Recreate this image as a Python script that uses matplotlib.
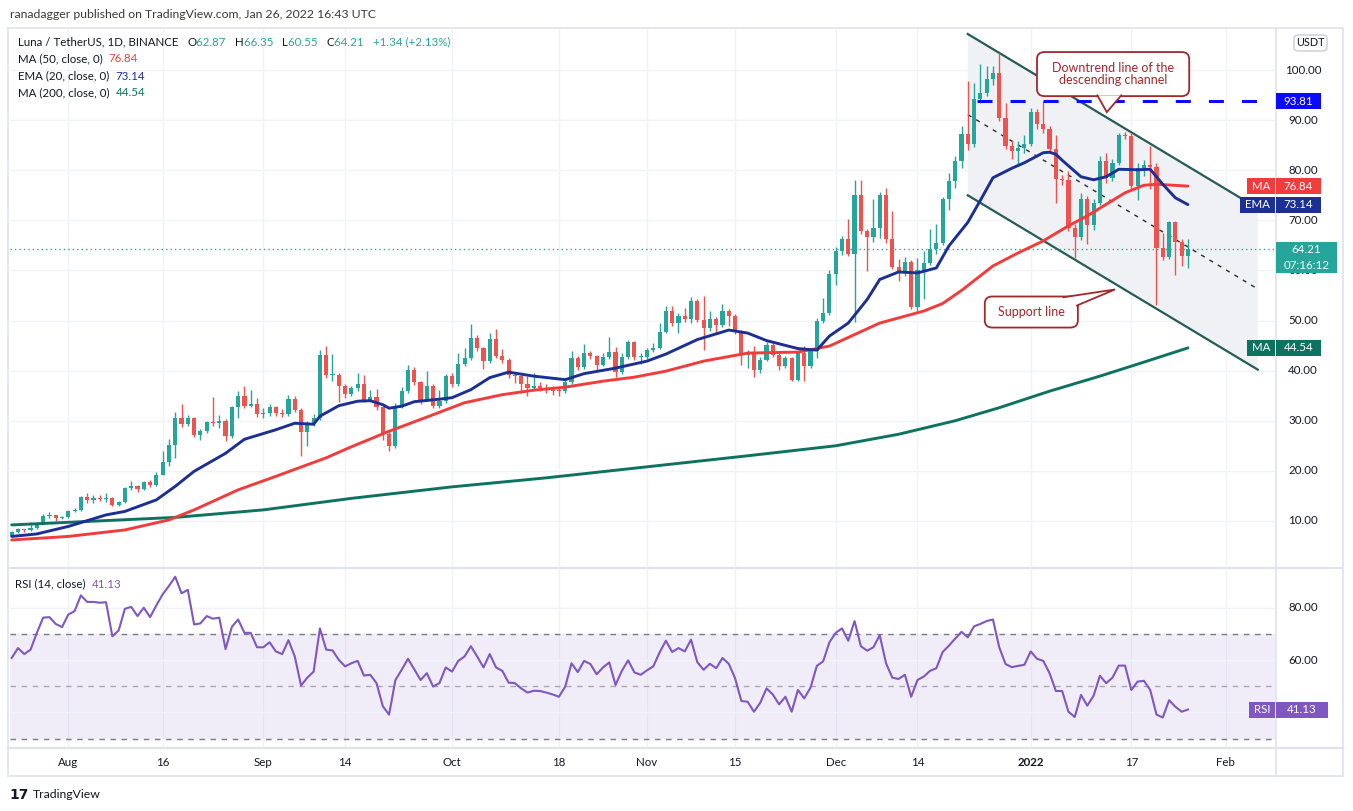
import matplotlib
matplotlib.use("Agg")
import matplotlib.pyplot as plt
import numpy as np
import pandas as pd
from matplotlib.patches import Rectangle, FancyBboxPatch, Polygon
from matplotlib.lines import Line2D

plt.rcParams["font.family"] = ["Lato", "DejaVu Sans"]
plt.rcParams["lines.scale_dashes"] = False

W, H = 1353, 811

# ---- data (LUNA/USDT daily, Binance) ----
start = "2021-07-23"
first_open = 7.0
closes = [
    7.8, 8.3, 8.1, 8.5, 9.5, 11.0, 11.1, 10.6, 10.7, 12.0,
    12.2, 14.7, 14.1, 14.6, 14.3, 14.5, 13.2, 13.7, 16.5, 17.0,
    16.4, 17.8, 17.2, 19.2, 21.8, 25.2, 30.6, 29.3, 30.6, 27.2,
    28.0, 29.7, 29.5, 30.0, 26.9, 32.7, 35.0, 33.0, 33.4, 31.3,
    31.5, 32.7, 31.5, 31.3, 34.4, 32.1, 27.7, 29.5, 30.5, 43.2,
    39.1, 39.2, 37.0, 35.4, 36.5, 37.4, 34.2, 34.7, 32.7, 27.4,
    24.9, 33.0, 36.0, 40.1, 37.7, 34.2, 36.9, 32.9, 33.9, 38.9,
    37.4, 41.4, 42.6, 46.6, 44.5, 41.9, 46.3, 43.0, 42.2, 39.1,
    38.9, 37.4, 36.5, 37.0, 36.5, 36.2, 36.0, 35.9, 37.7, 42.5,
    40.7, 43.5, 42.9, 41.2, 42.7, 43.8, 39.7, 42.7, 45.7, 42.7,
    42.8, 44.1, 44.6, 47.8, 51.9, 49.5, 51.0, 50.3, 54.0, 50.2,
    48.5, 50.3, 49.2, 52.0, 50.9, 47.9, 43.2, 43.4, 40.1, 42.2,
    45.2, 43.2, 41.0, 42.5, 38.2, 43.5, 40.9, 43.9, 50.0, 51.5,
    59.3, 63.9, 66.2, 63.2, 75.0, 67.9, 66.7, 68.5, 75.0, 66.2,
    60.7, 59.9, 61.7, 52.7, 60.0, 61.5, 64.2, 65.4, 74.2, 77.9,
    81.9, 87.2, 85.2, 94.2, 95.5, 98.2, 99.5, 90.5, 84.9, 83.9,
    84.5, 85.2, 91.7, 89.2, 88.3, 84.3, 78.2, 78.0, 68.5, 66.7,
    74.3, 69.0, 73.4, 81.9, 78.4, 81.5, 87.0, 86.9, 76.9, 80.5,
    81.0, 80.7, 64.5, 62.7, 69.7, 65.7, 62.87, 64.21,
]
highs = [
    8.0, 8.5, 8.4, 9.7, 9.8, 11.3, 11.7, 11.2, 11.0, 12.2,
    12.6, 15.0, 15.5, 15.2, 15.2, 15.5, 14.7, 14.0, 16.8, 18.0,
    17.2, 18.0, 18.1, 19.7, 23.9, 26.3, 31.7, 33.4, 31.2, 30.8,
    28.3, 30.0, 34.7, 31.2, 30.3, 33.0, 35.9, 36.9, 36.1, 34.5,
    32.5, 33.3, 33.0, 32.3, 35.2, 34.9, 32.5, 30.0, 31.4, 44.1,
    45.0, 43.4, 39.6, 37.4, 37.0, 39.5, 39.2, 36.2, 36.4, 33.0,
    28.1, 33.5, 36.8, 41.2, 40.7, 38.0, 39.9, 37.4, 36.2, 39.3,
    39.6, 43.5, 44.6, 49.4, 47.2, 44.8, 47.5, 48.3, 44.3, 42.6,
    39.5, 39.2, 38.9, 39.5, 37.8, 37.3, 36.9, 36.8, 38.6, 44.0,
    43.0, 45.3, 43.9, 43.2, 43.5, 46.7, 44.7, 43.5, 46.2, 46.0,
    43.6, 44.5, 45.5, 49.6, 52.9, 53.0, 51.6, 52.5, 54.7, 54.4,
    54.8, 51.9, 50.8, 53.3, 52.4, 51.3, 48.2, 44.2, 44.9, 42.8,
    45.7, 45.6, 43.5, 42.9, 42.8, 44.0, 44.9, 44.2, 50.5, 54.5,
    60.0, 64.6, 66.8, 70.3, 78.0, 78.1, 68.3, 74.2, 75.7, 76.5,
    71.9, 62.2, 62.6, 62.0, 62.5, 63.8, 68.3, 69.2, 74.7, 79.5,
    82.9, 88.9, 97.9, 97.5, 101.2, 100.9, 100.9, 103.4, 93.5, 86.0,
    85.9, 87.0, 92.5, 92.3, 93.9, 88.8, 87.0, 79.0, 79.9, 69.2,
    75.5, 74.8, 74.2, 82.8, 83.5, 82.2, 87.5, 87.6, 87.4, 81.5,
    82.0, 84.9, 81.5, 67.5, 69.9, 69.9, 66.3, 66.35,
]
lows = [
    6.9, 7.6, 7.8, 8.0, 8.3, 9.3, 10.6, 10.0, 10.3, 10.5,
    11.7, 12.0, 13.6, 13.6, 14.0, 13.8, 12.9, 12.9, 13.5, 16.2,
    15.8, 16.1, 16.7, 17.0, 19.1, 20.9, 22.5, 28.8, 29.0, 26.8,
    26.2, 27.6, 29.0, 28.5, 25.9, 26.5, 30.5, 32.6, 32.8, 30.8,
    30.5, 31.0, 30.9, 30.7, 31.0, 31.8, 22.9, 24.9, 28.9, 30.2,
    38.5, 37.9, 33.8, 34.6, 35.0, 36.0, 33.7, 33.9, 32.1, 26.2,
    23.9, 24.6, 32.5, 35.5, 37.2, 33.4, 34.0, 32.5, 32.6, 33.6,
    36.8, 37.0, 41.0, 42.2, 43.9, 40.3, 41.5, 42.5, 41.6, 38.6,
    37.5, 35.6, 34.9, 36.0, 35.9, 35.6, 35.2, 35.0, 35.5, 37.4,
    40.2, 40.3, 42.3, 40.0, 40.9, 42.4, 38.8, 39.3, 42.4, 42.2,
    41.3, 42.4, 43.7, 44.3, 47.5, 49.0, 47.5, 49.8, 49.6, 49.7,
    44.1, 48.0, 47.5, 48.8, 49.0, 47.4, 41.2, 40.5, 38.7, 39.6,
    41.9, 42.8, 40.2, 40.5, 37.9, 37.9, 37.9, 40.5, 42.5, 49.6,
    51.2, 57.0, 63.0, 62.8, 49.7, 67.3, 59.9, 65.6, 66.5, 65.5,
    60.2, 57.9, 58.9, 52.3, 52.0, 54.3, 61.0, 63.3, 65.0, 72.0,
    76.5, 80.5, 84.0, 84.6, 93.5, 94.8, 97.0, 89.9, 84.2, 82.2,
    81.2, 83.5, 84.8, 88.3, 87.5, 83.6, 73.4, 77.0, 67.8, 62.5,
    66.0, 65.2, 68.0, 73.0, 77.5, 77.9, 81.0, 86.2, 76.2, 74.0,
    78.9, 76.3, 53.2, 62.0, 62.3, 59.0, 60.8, 60.55,
]
rsi = [
    60.8, 64.6, 62.3, 64.0, 70.4, 76.2, 76.4, 73.8, 72.6, 77.4,
    78.7, 84.7, 82.2, 82.2, 81.9, 82.1, 69.1, 71.3, 79.6, 80.3,
    76.8, 80.0, 76.4, 80.9, 85.1, 88.3, 91.8, 85.5, 86.8, 73.6,
    74.0, 76.8, 75.8, 76.2, 64.2, 72.7, 75.5, 70.4, 70.4, 64.9,
    64.9, 66.8, 63.3, 62.3, 67.6, 61.4, 50.3, 53.3, 55.6, 72.1,
    64.0, 63.7, 60.1, 57.6, 58.8, 59.7, 54.1, 54.4, 51.2, 42.4,
    39.2, 52.4, 56.3, 60.5, 56.5, 52.4, 55.0, 49.9, 51.2, 57.2,
    55.6, 59.7, 61.4, 65.3, 61.4, 57.2, 62.3, 57.2, 55.9, 51.4,
    51.2, 49.2, 47.6, 48.3, 48.2, 47.6, 46.9, 46.0, 49.9, 58.8,
    55.4, 59.7, 58.5, 54.6, 57.2, 59.1, 50.5, 55.9, 59.9, 55.3,
    54.4, 56.1, 57.6, 62.9, 67.4, 63.1, 64.6, 63.3, 67.8, 59.2,
    56.3, 58.6, 56.9, 60.8, 58.6, 53.1, 44.4, 44.1, 40.3, 43.7,
    49.2, 46.9, 43.1, 46.0, 40.3, 48.6, 45.4, 49.5, 57.8, 59.5,
    66.8, 70.4, 72.1, 67.4, 74.9, 65.3, 63.6, 64.9, 69.5, 58.8,
    53.3, 52.8, 54.4, 46.0, 52.4, 53.7, 55.9, 56.9, 63.1, 65.5,
    68.2, 70.8, 68.7, 72.9, 73.8, 74.9, 75.5, 64.9, 58.5, 57.3,
    57.8, 58.2, 63.3, 60.5, 59.7, 55.0, 48.2, 48.2, 40.3, 38.3,
    46.7, 42.6, 46.4, 54.0, 51.2, 53.3, 57.9, 57.9, 48.6, 51.8,
    52.1, 48.6, 39.2, 38.1, 44.7, 42.2, 40.3, 41.13,
]

# moving averages, read at day offsets from the start date
ema20_day = [0, 4, 9, 15, 18, 23, 26, 29, 34, 37, 42, 45, 48, 49, 50, 52, 55, 57, 59, 60,
             62, 64, 68, 70, 73, 76, 79, 83, 88, 91, 96, 101, 104, 109, 114, 117, 120, 125, 128, 130,
             133, 136, 138, 141, 144, 147, 149, 152, 154, 156, 159, 161, 164, 165, 166, 167, 168, 170, 172, 174,
             176, 179, 181, 183, 185, 187]
ema20_val = [6.9, 7.4, 8.9, 11.2, 11.9, 14.2, 16.9, 19.9, 23.5, 26.3, 28.2, 29.5, 29.3, 30.9, 31.6, 33.0, 33.9, 34.0, 33.2, 32.5,
             32.9, 33.8, 34.3, 34.6, 36.2, 38.6, 39.7, 38.9, 38.2, 39.4, 40.5, 41.9, 43.3, 46.2, 48.1, 47.5, 46.0, 44.4, 44.1, 46.9,
             49.5, 54.2, 58.2, 59.7, 59.5, 60.5, 64.9, 69.6, 74.0, 78.5, 80.4, 81.5, 83.5, 83.6, 83.2, 82.0, 80.9, 78.7, 78.1, 78.7,
             80.2, 80.1, 80.2, 77.2, 74.5, 73.14]
ma50_day = [0, 9, 18, 25, 29, 36, 42, 50, 54, 60, 67, 72, 78, 83, 88, 94, 99, 104, 110, 117,
            125, 130, 138, 145, 148, 151, 156, 160, 164, 168, 171, 174, 177, 180, 182, 187]
ma50_val = [6.2, 6.9, 8.2, 10.2, 12.2, 16.2, 18.9, 22.6, 24.8, 27.9, 31.2, 33.6, 35.2, 36.1, 36.7, 37.9, 38.7, 39.9, 41.9, 43.5,
            43.7, 44.9, 49.5, 51.9, 53.4, 56.0, 60.9, 63.5, 65.9, 68.9, 70.9, 73.2, 75.5, 77.0, 77.2, 76.84]
ma200_day = [0, 26, 40, 54, 70, 85, 101, 117, 131, 141, 150, 157, 165, 173, 180, 187]
ma200_val = [9.2, 10.7, 12.2, 14.5, 16.8, 18.6, 20.8, 23.0, 25.0, 27.3, 30.0, 32.6, 35.9, 38.9, 41.7, 44.54]

tick_dates = ["2021-08-01", "2021-08-16", "2021-09-01", "2021-09-14", "2021-10-01", "2021-10-18",
              "2021-11-01", "2021-11-15", "2021-12-01", "2021-12-14", "2022-01-01", "2022-01-17", "2022-02-01"]
tick_labels = ["Aug", "16", "Sep", "14", "Oct", "18", "Nov", "15", "Dec", "14", "2022", "17", "Feb"]

# drawings on the chart
resistance = 93.81
resistance_from = 153.4
chan_x = [152.0, 198.1]
chan_top = [107.2, 72.4]
chan_bot = [75.0, 40.2]

UP, DOWN = "#26a69a", "#ef5350"
TXT = "#131722"
GRID = "#f0f3fa"
EMA_C, MA50_C, MA200_C = "#1b2f94", "#f23c3c", "#0d7360"
RSI_C = "#7e57c2"
NOTE_C = "#a3272c"

dates = pd.date_range(start, periods=len(closes), freq="D")
x = np.arange(len(closes))
c = np.array(closes)
hi = np.array(highs)
lo = np.array(lows)
o = np.r_[first_open, c[:-1]]
tick_pos = [(pd.Timestamp(d) - dates[0]).days for d in tick_dates]

fig = plt.figure(figsize=(W / 100, H / 100), dpi=100)
fig.patch.set_facecolor("white")


def fx(px):
    return px / W


def fy(py):
    return 1 - py / H


ax = fig.add_axes([fx(10), fy(567), 1265 / W, (567 - 29) / H])
rx = fig.add_axes([fx(10), fy(748), 1265 / W, (748 - 569) / H])
for a in (ax, rx):
    a.set_xlim(-0.27, 200.84)
    a.set_xticks([])
    a.set_yticks([])
    for s in a.spines.values():
        s.set_visible(False)
    for t in tick_pos:
        a.axvline(t, color=GRID, lw=1, zorder=0)
ax.set_ylim(0.8, 108.2)
rx.set_ylim(26.45, 94.77)

# ---- price pane ----
for v in range(10, 101, 10):
    ax.axhline(v, color=GRID, lw=1, zorder=0)
    ax.text(1.0221, v, f"{v:.2f}", transform=ax.get_yaxis_transform(), ha="center", va="center",
            fontsize=8.3, color=TXT)

ax.add_patch(Polygon([(chan_x[0], chan_top[0]), (chan_x[1], chan_top[1]),
                      (chan_x[1], chan_bot[1]), (chan_x[0], chan_bot[0])],
                     closed=True, facecolor="#f0f1f4", edgecolor="none", zorder=0.5))
ax.plot(chan_x, chan_top, color="#255c56", lw=1.6, zorder=2)
ax.plot(chan_x, chan_bot, color="#255c56", lw=1.6, zorder=2)
ax.plot(chan_x, [(chan_top[0] + chan_bot[0]) / 2, (chan_top[1] + chan_bot[1]) / 2],
        color="#2b2b2b", lw=1, dashes=(3, 4), zorder=2)

col = np.where(c >= o, UP, DOWN)
ax.vlines(x, lo, hi, colors=col, lw=1, zorder=3)
ax.bar(x, np.maximum(np.abs(c - o), 0.22), bottom=np.minimum(o, c), width=0.66,
       color=col, lw=0, zorder=3)

ax.plot(ma200_day, ma200_val, color=MA200_C, lw=2.1, zorder=4, solid_capstyle="round")
ax.plot(ma50_day, ma50_val, color=MA50_C, lw=2.1, zorder=4, solid_capstyle="round")
ax.plot(ema20_day, ema20_val, color=EMA_C, lw=2.1, zorder=4, solid_capstyle="round",
        solid_joinstyle="round")

ax.plot([resistance_from, 200.84], [resistance, resistance], color="#0a0aff", lw=2.2,
        dashes=(10.8, 13), zorder=5, dash_capstyle="butt")
ax.axhline(c[-1], color=UP, lw=1, dashes=(1, 2.2), zorder=2)


def callout(box, tail, lines, fs=9):
    (x0, y0), (x1, y1) = box
    ax.add_patch(FancyBboxPatch((x0, y0), x1 - x0, y1 - y0,
                                boxstyle="round,pad=0,rounding_size=1.2",
                                facecolor="white", edgecolor=NOTE_C, lw=1.3, zorder=6,
                                mutation_aspect=1.2))
    ax.add_patch(Polygon(tail, closed=True, facecolor="white", edgecolor="none", zorder=7))
    ax.plot([tail[0][0], tail[1][0], tail[2][0]], [tail[0][1], tail[1][1], tail[2][1]],
            color=NOTE_C, lw=1.3, zorder=7, solid_joinstyle="miter")
    ax.text((x0 + x1) / 2, (y0 + y1) / 2, lines, ha="center", va="center", color=NOTE_C,
            fontsize=fs, linespacing=0.95, zorder=8)


callout(((163.0, 94.8), (187.2, 103.6)), [(172.6, 94.95), (174.1, 91.6), (176.4, 94.95)],
        "Downtrend line of the\ndescending channel")
callout(((154.7, 48.6), (169.5, 54.8)), [(167.2, 54.65), (175.4, 56.2), (169.35, 53.0)],
        "Support line")

# ---- RSI pane ----
rx.axhspan(30, 70, color=RSI_C, alpha=0.1, lw=0, zorder=0)
for v in (40, 60, 80):
    rx.axhline(v, color=GRID, lw=1, zorder=0.2)
for v in (70, 50, 30):
    rx.axhline(v, color="#787b86", lw=1, dashes=(4, 4), alpha=1 if v != 50 else 0.6, zorder=1)
rx.plot(x, rsi, color=RSI_C, lw=1.5, zorder=3)
for v in (80, 60):
    rx.text(1.0221, v, f"{v:.2f}", transform=rx.get_yaxis_transform(), ha="center", va="center",
            fontsize=8.3, color=TXT)

for p, lab in zip(tick_pos, tick_labels):
    rx.text(p, -0.079, lab, transform=rx.get_xaxis_transform(), ha="center", va="center",
            fontsize=8.3, color=TXT, fontweight="bold" if lab == "2022" else "normal")

# ---- frame ----
FR = "#e0e3eb"
fig.add_artist(Rectangle((fx(8), fy(776)), 1335 / W, (776 - 28) / H, transform=fig.transFigure,
                         fill=False, edgecolor=FR, lw=1.2))
for yy in (568, 748):
    fig.add_artist(Line2D([fx(8), fx(1343)], [fy(yy), fy(yy)], transform=fig.transFigure,
                          color=FR, lw=1.6))
fig.add_artist(Line2D([fx(1276), fx(1276)], [fy(28), fy(776)], transform=fig.transFigure,
                      color=FR, lw=1.2))


# ---- price tags on the scale ----
def tag(axis, value, x0, x1, text, face, hpx=16, up=None, tc="white"):
    yd = axis.transData.transform((0, value))[1]
    top = yd + hpx / 2 if up is None else yd + up
    fig.add_artist(Rectangle((x0 / W, (top - hpx) / H), (x1 - x0) / W, hpx / H,
                             transform=fig.transFigure, facecolor=face, edgecolor="none", zorder=5))
    fig.text((x0 + x1) / 2 / W, yd / H, text, color=tc, fontsize=8.3, ha="center",
             va="center", zorder=6)
    return yd


tag(ax, resistance, 1276, 1321, f"{resistance:.2f}", "#0a0aff")
tag(ax, ma50_val[-1], 1247, 1275, "MA", MA50_C)
tag(ax, ma50_val[-1], 1276, 1321, f"{ma50_val[-1]:.2f}", MA50_C)
tag(ax, ema20_val[-1], 1240, 1275, "EMA", EMA_C)
tag(ax, ema20_val[-1], 1276, 1321, f"{ema20_val[-1]:.2f}", EMA_C)
tag(ax, ma200_val[-1], 1247, 1275, "MA", MA200_C)
tag(ax, ma200_val[-1], 1276, 1321, f"{ma200_val[-1]:.2f}", MA200_C)
yd = tag(ax, c[-1], 1276, 1337, f"{c[-1]:.2f}", UP, hpx=31, up=7)
fig.text((1276 + 1337) / 2 / W, (yd - 16) / H, "07:16:12", color="white", fontsize=8.3,
         ha="center", va="center", zorder=6)
tag(rx, rsi[-1], 1249, 1275, "RSI", RSI_C)
tag(rx, rsi[-1], 1276, 1328, f"{rsi[-1]:.2f}", RSI_C)

fig.add_artist(FancyBboxPatch((fx(1294), fy(51)), 33 / W, 16 / H, transform=fig.transFigure,
                              boxstyle="round,pad=0,rounding_size=0.004", facecolor="white",
                              edgecolor="#c9ccd4", lw=1))
fig.text(fx(1310.5), fy(43), "USDT", fontsize=7.8, color=TXT, ha="center", va="center")

# ---- legends ----
renderer = fig.canvas.get_renderer()


def seq(px, py, parts, fs=8.3):
    for s, cl in parts:
        t = fig.text(fx(px), fy(py), s, color=cl, fontsize=fs, ha="left", va="center")
        px += t.get_window_extent(renderer).width


fig.text(fx(10), fy(15), "ranadagger published on TradingView.com, Jan 26, 2022 16:43 UTC",
         fontsize=8.8, color="#3a3a3a", ha="left", va="center")
chg = c[-1] - c[-2]
seq(18, 42, [("Luna / TetherUS, 1D, BINANCE   ", TXT), ("O", TXT), (f"{o[-1]:.2f}   ", UP),
             ("H", TXT), (f"{hi[-1]:.2f}   ", UP), ("L", TXT), (f"{lo[-1]:.2f}   ", UP),
             ("C", TXT), (f"{c[-1]:.2f}   ", UP), (f"+{chg:.2f} (+{chg / c[-2] * 100:.2f}%)", UP)])
seq(18, 59, [("MA (50, close, 0)  ", TXT), (f"{ma50_val[-1]:.2f}", MA50_C)])
seq(18, 76, [("EMA (20, close, 0)  ", TXT), (f"{ema20_val[-1]:.2f}", EMA_C)])
seq(18, 93, [("MA (200, close, 0)  ", TXT), (f"{ma200_val[-1]:.2f}", MA200_C)])
seq(15, 584, [("RSI (14, close)  ", TXT), (f"{rsi[-1]:.2f}", RSI_C)])

fig.text(fx(9), fy(795), "17", fontsize=10, fontweight="heavy", color=TXT, family="DejaVu Sans",
         ha="left", va="center")
fig.text(fx(33), fy(795), "TradingView", fontsize=8.8, color=TXT, ha="left", va="center")

fig.savefig("out.png", dpi=100)
